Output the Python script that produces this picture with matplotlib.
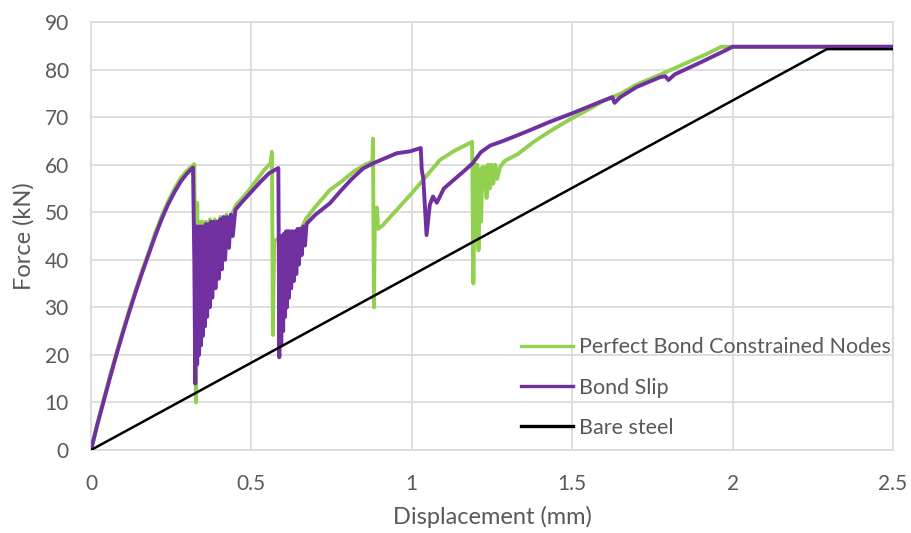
import matplotlib.pyplot as plt

# Perfect bond with constrained nodes (green)
green_x = [0, 0.02, 0.04, 0.06, 0.08, 0.10, 0.12, 0.14, 0.16, 0.18, 0.20,
           0.22, 0.24, 0.26, 0.28, 0.30, 0.322, 0.327, 0.331,
           0.334, 0.338, 0.342, 0.347, 0.352, 0.358, 0.364, 0.371, 0.378, 0.386,
           0.394, 0.403, 0.412, 0.422, 0.432, 0.442, 0.452,
           0.48, 0.50, 0.54, 0.560, 0.564, 0.567, 0.571, 0.590, 0.600, 0.610,
           0.620, 0.630, 0.640, 0.652, 0.67, 0.70, 0.745, 0.776, 0.82, 0.86,
           0.877, 0.879, 0.882, 0.885, 0.888, 0.891, 0.895, 0.91, 1.0, 1.088,
           1.135, 1.188, 1.192, 1.196, 1.200, 1.204, 1.208, 1.212, 1.216, 1.220,
           1.224, 1.228, 1.233, 1.238, 1.243, 1.248, 1.254, 1.260, 1.266, 1.275,
           1.29, 1.33, 1.38, 1.43, 1.49, 1.55, 1.60, 1.65, 1.70, 1.78, 1.85,
           1.92, 1.965, 1.98, 2.5]
green_y = [0, 5.6, 10.8, 15.8, 20.6, 25.2, 29.6, 33.8, 37.8, 41.6, 45.6,
           49.1, 52.2, 54.9, 57.2, 58.8, 60.1, 10, 52,
           36, 48, 37, 48, 38, 48, 39, 48.5, 41, 48.5,
           43, 49, 45, 49.5, 47, 50, 51.5,
           53.6, 55.3, 58.9, 60.3, 62.7, 24.2, 44, 44.5, 40, 45,
           42, 45.5, 44, 46, 48.6, 51.2, 54.7, 56.2, 58.6, 60.2,
           60.6, 65.5, 30, 50, 47, 51, 46.5, 47.3, 54, 61,
           63, 64.8, 35, 60, 45, 60, 42, 59, 48, 59.5,
           55, 59.5, 53, 60, 55, 60, 56, 60, 57, 59.5,
           60.8, 62.2, 64.8, 67, 69.4, 71.6, 73.5, 74.9, 76.8, 79.1, 81.2,
           83.3, 84.8, 84.8, 84.8]

# Bond slip (purple)
purple_x = [0, 0.02, 0.04, 0.06, 0.08, 0.10, 0.12, 0.14, 0.16, 0.18, 0.20,
            0.22, 0.24, 0.26, 0.28, 0.30, 0.318, 0.322, 0.325,
            0.328, 0.331, 0.334, 0.337, 0.340, 0.343, 0.346, 0.349, 0.352, 0.355,
            0.358, 0.362, 0.366, 0.370, 0.374, 0.378, 0.383, 0.388, 0.393, 0.398,
            0.403, 0.408, 0.413, 0.418, 0.424, 0.430, 0.436, 0.442, 0.450,
            0.47, 0.50, 0.527, 0.555, 0.584, 0.587, 0.590, 0.593, 0.596, 0.599,
            0.602, 0.605, 0.608, 0.611, 0.614, 0.617, 0.620, 0.624, 0.628, 0.632,
            0.636, 0.640, 0.644, 0.648, 0.652, 0.657, 0.662, 0.667, 0.672, 0.678,
            0.70, 0.745, 0.776, 0.81, 0.848, 0.88, 0.953, 0.994, 1.028, 1.031,
            1.036, 1.046, 1.056, 1.066, 1.078, 1.10, 1.16, 1.19, 1.215, 1.244,
            1.285, 1.33, 1.37, 1.43, 1.50, 1.587, 1.625, 1.632, 1.65, 1.70,
            1.774, 1.79, 1.80, 1.82, 1.90, 1.98, 2.0, 2.5]
purple_y = [0, 5.4, 10.4, 15.4, 20.2, 24.8, 29.2, 33.4, 37.4, 41.2, 45.0,
            48.5, 51.6, 54.2, 56.5, 58.2, 59.4, 40, 14,
            47, 18, 47, 20, 47, 22, 47, 24, 47, 26,
            47.5, 28, 47.5, 30, 48, 32, 48, 34, 48, 36,
            48.5, 38, 49, 40, 49, 42.5, 49.5, 45, 50.5,
            52.1, 54.3, 56.3, 58.2, 59.3, 19.5, 45, 22, 45, 25,
            45.5, 28, 46, 30, 46, 32, 46, 34, 46, 35.5,
            46, 37, 46.5, 39, 46.5, 41, 47, 43, 47.5, 48,
            49.5, 51.9, 54.3, 56.8, 59.2, 60.3, 62.4, 62.8, 63.5, 59,
            57, 45.2, 51.5, 53.3, 52, 55, 58.5, 60.3, 62.6, 64,
            65, 66.2, 67.3, 69, 70.8, 73.2, 74.2, 73, 74.2, 76.3,
            78.4, 78.6, 77.8, 79, 81.5, 84.1, 84.8, 84.8]

# Bare steel (black)
steel_x = [0, 2.294, 2.5]
steel_y = [0, 84.3, 84.3]

x_ticks = [0, 0.5, 1, 1.5, 2, 2.5]
x_tick_labels = ['0', '0.5', '1', '1.5', '2', '2.5']
y_ticks = [0, 10, 20, 30, 40, 50, 60, 70, 80, 90]

plt.rcParams['font.family'] = ['Lato', 'DejaVu Sans']
text_color = '#595959'
grid_color = '#D9D9D9'

fig = plt.figure(figsize=(9.11, 5.33), dpi=100)
ax = fig.add_axes([0.0999, 0.1557, 0.8803, 0.803])

ax.plot(green_x, green_y, color='#92D050', lw=2.8, solid_joinstyle='round',
        label='Perfect Bond Constrained Nodes', zorder=3)
ax.plot(purple_x, purple_y, color='#7030A0', lw=2.8, solid_joinstyle='round',
        label='Bond Slip', zorder=4)
ax.plot(steel_x, steel_y, color='black', lw=1.8, label='Bare steel', zorder=5)

ax.set_xlim(0, 2.5)
ax.set_ylim(0, 90)
ax.set_xticks(x_ticks)
ax.set_xticklabels(x_tick_labels)
ax.set_yticks(y_ticks)
ax.grid(True, color=grid_color, lw=1.2)
ax.set_axisbelow(True)
for s in ax.spines.values():
    s.set_color(grid_color)
    s.set_linewidth(1.2)
ax.tick_params(length=0, colors=text_color, labelsize=15)
ax.tick_params(axis='y', pad=16)
ax.tick_params(axis='x', pad=17)

ax.set_xlabel('Displacement (mm)', fontsize=17, color=text_color, labelpad=9)
ax.set_ylabel('Force (kN)', fontsize=17, color=text_color, labelpad=7)

leg = ax.legend(loc='lower right', bbox_to_anchor=(0.998, 0.028), frameon=False,
                fontsize=15.5, handlelength=2.4, handletextpad=0.3,
                labelspacing=0.95, borderaxespad=0, borderpad=0,
                labelcolor=text_color)
for h in leg.get_lines():
    h.set_linewidth(2.4)

fig.savefig('out.png', dpi=100)
